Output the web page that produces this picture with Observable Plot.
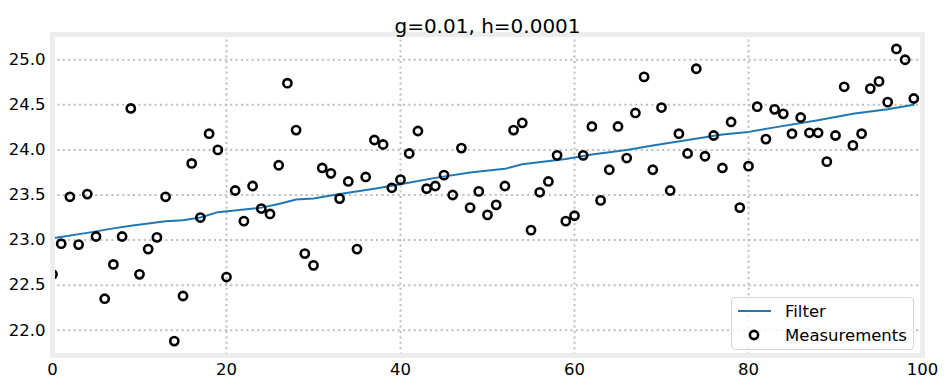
<!DOCTYPE html>
<html><head><meta charset="utf-8">
<script src="https://cdn.jsdelivr.net/npm/d3@7"></script>
<script src="https://cdn.jsdelivr.net/npm/@observablehq/plot@0.6"></script>
<style>
body{margin:0;background:#fff;font-family:"DejaVu Sans",sans-serif;}
#wrap{position:relative;width:947px;height:387px;}
.legend{position:absolute;left:731px;top:297px;width:183px;height:53px;border:1px solid #d4d4d4;border-radius:4px;background:rgba(255,255,255,0.8);box-sizing:border-box;}
</style></head><body>
<div id="wrap"></div>
<script>
const titleText = ["g=0.01, h=0.0001"];
const seriesNames = ["Filter", "Measurements"];
const xTicks = [0, 20, 40, 60, 80, 100];
const xGrid = [20, 40, 60, 80];
const yTicks = [22.0, 22.5, 23.0, 23.5, 24.0, 24.5, 25.0];

// measurements, index = measurement number 0..99
const measY = [
 22.62, 22.96, 23.48, 22.95, 23.51, 23.04, 22.35, 22.73, 23.04, 24.46,
 22.62, 22.90, 23.03, 23.48, 21.88, 22.38, 23.85, 23.25, 24.18, 24.00,
 22.59, 23.55, 23.21, 23.60, 23.35, 23.29, 23.83, 24.74, 24.22, 22.85,
 22.72, 23.80, 23.74, 23.46, 23.65, 22.90, 23.70, 24.11, 24.06, 23.58,
 23.67, 23.96, 24.21, 23.57, 23.60, 23.72, 23.50, 24.02, 23.36, 23.54,
 23.28, 23.39, 23.60, 24.22, 24.30, 23.11, 23.53, 23.65, 23.94, 23.21,
 23.27, 23.94, 24.26, 23.44, 23.78, 24.26, 23.91, 24.41, 24.81, 23.78,
 24.47, 23.55, 24.18, 23.96, 24.90, 23.93, 24.16, 23.80, 24.31, 23.36,
 23.82, 24.48, 24.12, 24.45, 24.40, 24.18, 24.36, 24.19, 24.19, 23.87,
 24.16, 24.70, 24.05, 24.18, 24.68, 24.76, 24.53, 25.12, 25.00, 24.57
];

// filter estimate
const filterX = [0, 4, 7, 9, 13, 15, 17, 19, 24, 26, 28, 30, 33, 37, 40, 44, 48, 52, 54, 59, 62, 66, 69, 73, 77, 80, 83, 88, 92, 96, 99];
const filterY = [23.02, 23.08, 23.13, 23.16, 23.21, 23.22, 23.25, 23.31, 23.36, 23.40, 23.45, 23.46, 23.51, 23.57, 23.62, 23.69, 23.75, 23.79, 23.84, 23.90, 23.95, 24.00, 24.05, 24.11, 24.17, 24.20, 24.25, 24.33, 24.40, 24.45, 24.50];

const meas = measY.map((v, i) => ({x: i, y: v}));
const filt = filterX.map((x, i) => ({x, y: filterY[i]}));

const gridStyle = {stroke: "#bcbcbc", strokeWidth: 2, strokeDasharray: "2,3.4"};

const chart = Plot.plot({
  width: 947, height: 387,
  marginLeft: 52, marginRight: 25, marginTop: 34, marginBottom: 32,
  style: {fontFamily: "DejaVu Sans", fontSize: "16.5px", color: "black", background: "white"},
  x: {domain: [0, 100], ticks: xTicks, tickSize: 0, tickPadding: 8, tickFormat: d => String(d), label: null},
  y: {domain: [21.72, 25.28], ticks: yTicks, tickSize: 0, tickPadding: 7, tickFormat: d3.format(".1f"), label: null},
  marks: [
    Plot.ruleY(yTicks, gridStyle),
    Plot.ruleX(xGrid, gridStyle),
    Plot.line(filt, {x: "x", y: "y", stroke: "#1f77b4", strokeWidth: 2, clip: true}),
    Plot.dot(meas, {x: "x", y: "y", r: 4.1, stroke: "black", strokeWidth: 2.6, fill: "none", clip: true}),
    Plot.frame({stroke: "#ededed", strokeWidth: 5}),
    Plot.text(titleText, {frameAnchor: "top", text: d => d, dy: -16, fontSize: 20, fill: "black"})
  ]
});
const wrap = document.getElementById("wrap");
wrap.appendChild(chart);

const leg = document.createElement("div");
leg.className = "legend";
leg.innerHTML = `<svg width="183" height="53" style="position:absolute;left:0;top:0;font-family:'DejaVu Sans';font-size:16.5px">
<line x1="6" x2="39" y1="13" y2="13" stroke="#1f77b4" stroke-width="2"/>
<text x="53" y="13" dy="0.35em" fill="black">${seriesNames[0]}</text>
<circle cx="22" cy="37" r="4.1" fill="none" stroke="black" stroke-width="2.6"/>
<text x="53" y="37" dy="0.35em" fill="black">${seriesNames[1]}</text>
</svg>`;
wrap.appendChild(leg);
</script>
</body></html>
